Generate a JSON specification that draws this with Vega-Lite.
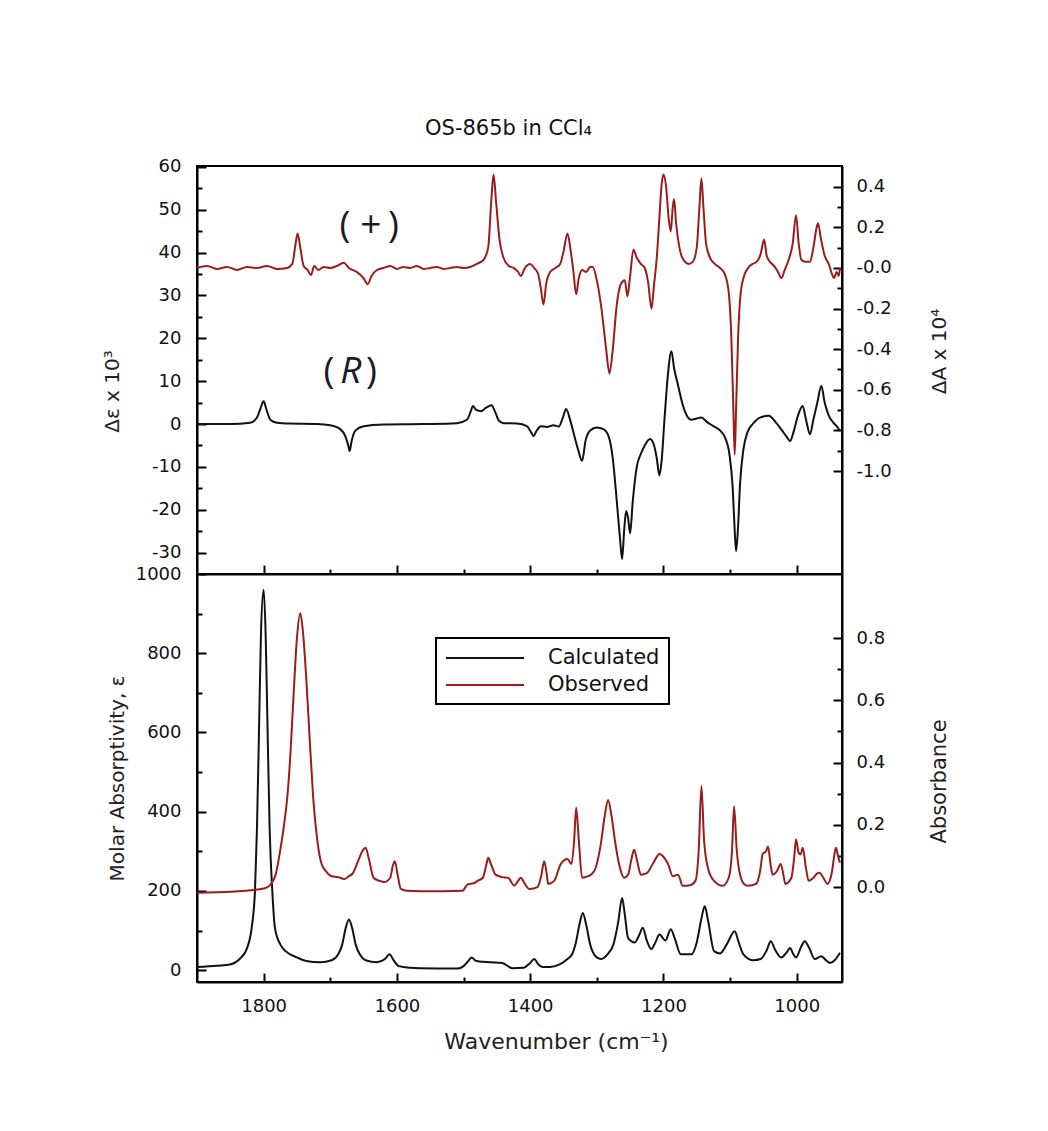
{
  "$schema": "https://vega.github.io/schema/vega-lite/v6.json",
  "padding": {"left": 101, "top": 116, "right": 20, "bottom": 20},
  "background": "white",
  "spacing": 0,
  "bounds": "flush",
  "config": {
    "font": "DejaVu Sans",
    "view": {"stroke": "black", "strokeWidth": 2},
    "axis": {"grid": false, "domainColor": "black", "domainWidth": 2, "tickColor": "black", "tickWidth": 2, "labelFont": "DejaVu Sans", "labelFontSize": 18, "labelColor": "#111", "titleFont": "DejaVu Sans", "titleFontWeight": "normal", "titleColor": "#222", "labelFlush": false, "labelOverlap": false},
    "legend": {"strokeWidth": 2}
  },
  "resolve": {"scale": {"color": "independent"}, "legend": {"color": "independent"}},
  "datasets": {
    "vcd_obs": [
      {"x":1900,"y":0.0},{"x":1885,"y":0.01},{"x":1870,"y":-0.005},{"x":1855,"y":0.005},{"x":1840,"y":-0.01},{"x":1825,"y":0.005},{"x":1810,"y":0.0},{"x":1795,"y":0.01},{"x":1780,"y":-0.005},{"x":1765,"y":0.0},{"x":1757,"y":0.02},{"x":1752,"y":0.12},{"x":1749,"y":0.17},{"x":1745,"y":0.1},{"x":1740,"y":0.01},{"x":1734,"y":-0.01},{"x":1729,"y":-0.035},{"x":1724,"y":0.01},{"x":1718,"y":-0.01},{"x":1710,"y":0.005},{"x":1700,"y":0.0},{"x":1690,"y":0.01},{"x":1680,"y":0.025},{"x":1672,"y":0.0},{"x":1660,"y":-0.02},{"x":1650,"y":-0.05},{"x":1644,"y":-0.08},{"x":1638,"y":-0.04},{"x":1630,"y":-0.01},{"x":1620,"y":0.0},{"x":1610,"y":0.01},{"x":1600,"y":-0.005},{"x":1590,"y":0.005},{"x":1580,"y":0.0},{"x":1570,"y":0.01},{"x":1560,"y":-0.005},{"x":1550,"y":0.0},{"x":1540,"y":0.005},{"x":1530,"y":-0.005},{"x":1520,"y":0.0},{"x":1510,"y":0.005},{"x":1500,"y":0.0},{"x":1490,"y":0.005},{"x":1480,"y":0.02},{"x":1470,"y":0.04},{"x":1463,"y":0.1},{"x":1458,"y":0.35},{"x":1455,"y":0.46},{"x":1451,"y":0.32},{"x":1446,"y":0.14},{"x":1440,"y":0.05},{"x":1432,"y":0.01},{"x":1425,"y":0.0},{"x":1418,"y":-0.02},{"x":1414,"y":-0.04},{"x":1408,"y":0.0},{"x":1400,"y":0.02},{"x":1394,"y":0.0},{"x":1388,"y":-0.03},{"x":1384,"y":-0.1},{"x":1380,"y":-0.18},{"x":1376,"y":-0.08},{"x":1370,"y":-0.02},{"x":1362,"y":0.0},{"x":1355,"y":0.02},{"x":1350,"y":0.08},{"x":1344,"y":0.17},{"x":1339,"y":0.08},{"x":1335,"y":-0.02},{"x":1331,"y":-0.13},{"x":1327,"y":-0.05},{"x":1322,"y":-0.01},{"x":1316,"y":-0.02},{"x":1310,"y":0.005},{"x":1306,"y":0.005},{"x":1300,"y":-0.06},{"x":1293,"y":-0.2},{"x":1286,"y":-0.4},{"x":1281,"y":-0.52},{"x":1276,"y":-0.4},{"x":1270,"y":-0.18},{"x":1264,"y":-0.08},{"x":1258,"y":-0.06},{"x":1254,"y":-0.14},{"x":1250,"y":-0.04},{"x":1245,"y":0.09},{"x":1240,"y":0.05},{"x":1234,"y":0.02},{"x":1228,"y":0.0},{"x":1223,"y":-0.07},{"x":1218,"y":-0.2},{"x":1214,"y":-0.08},{"x":1210,"y":0.05},{"x":1206,"y":0.25},{"x":1203,"y":0.4},{"x":1200,"y":0.46},{"x":1196,"y":0.4},{"x":1192,"y":0.24},{"x":1189,"y":0.18},{"x":1186,"y":0.3},{"x":1184,"y":0.34},{"x":1181,"y":0.22},{"x":1176,"y":0.1},{"x":1170,"y":0.04},{"x":1162,"y":0.02},{"x":1156,"y":0.03},{"x":1150,"y":0.1},{"x":1146,"y":0.3},{"x":1143,"y":0.44},{"x":1140,"y":0.3},{"x":1136,"y":0.12},{"x":1130,"y":0.05},{"x":1123,"y":0.02},{"x":1115,"y":0.0},{"x":1108,"y":-0.03},{"x":1102,"y":-0.12},{"x":1098,"y":-0.35},{"x":1095,"y":-0.7},{"x":1093,"y":-0.92},{"x":1091,"y":-0.7},{"x":1088,"y":-0.35},{"x":1084,"y":-0.12},{"x":1079,"y":-0.04},{"x":1073,"y":0.0},{"x":1066,"y":0.02},{"x":1060,"y":0.03},{"x":1054,"y":0.07},{"x":1049,"y":0.14},{"x":1045,"y":0.06},{"x":1040,"y":0.03},{"x":1034,"y":0.01},{"x":1028,"y":-0.02},{"x":1023,"y":-0.05},{"x":1018,"y":-0.01},{"x":1012,"y":0.04},{"x":1006,"y":0.12},{"x":1001,"y":0.26},{"x":997,"y":0.12},{"x":993,"y":0.04},{"x":987,"y":0.03},{"x":980,"y":0.03},{"x":975,"y":0.1},{"x":970,"y":0.2},{"x":968,"y":0.22},{"x":964,"y":0.15},{"x":958,"y":0.06},{"x":952,"y":0.02},{"x":947,"y":-0.03},{"x":944,"y":-0.05},{"x":940,"y":-0.02},{"x":937,"y":-0.04},{"x":935,"y":0.0}
    ],
    "vcd_calc": [
      {"x":1900,"y":0},{"x":1850,"y":0},{"x":1820,"y":0.3},{"x":1810,"y":1.5},{"x":1805,"y":3.5},{"x":1800,"y":5.3},{"x":1796,"y":3.5},{"x":1790,"y":1.0},{"x":1780,"y":0.3},{"x":1760,"y":0.1},{"x":1720,"y":0},{"x":1700,"y":-0.3},{"x":1685,"y":-1.2},{"x":1677,"y":-3},{"x":1673,"y":-5},{"x":1671,"y":-6.3},{"x":1668,"y":-4},{"x":1662,"y":-1.5},{"x":1650,"y":-0.5},{"x":1620,"y":-0.1},{"x":1560,"y":0},{"x":1510,"y":0.2},{"x":1495,"y":1.0},{"x":1489,"y":3.0},{"x":1486,"y":4.2},{"x":1481,"y":3.3},{"x":1474,"y":3.0},{"x":1466,"y":3.8},{"x":1458,"y":4.4},{"x":1453,"y":3.0},{"x":1447,"y":0.8},{"x":1440,"y":0.2},{"x":1420,"y":0.1},{"x":1405,"y":-0.5},{"x":1399,"y":-1.8},{"x":1395,"y":-2.8},{"x":1390,"y":-1.5},{"x":1384,"y":-0.5},{"x":1375,"y":-0.7},{"x":1365,"y":-0.3},{"x":1357,"y":-0.6},{"x":1351,"y":1.5},{"x":1346,"y":3.5},{"x":1341,"y":1.5},{"x":1335,"y":-2},{"x":1328,"y":-6},{"x":1322,"y":-8.6},{"x":1317,"y":-4},{"x":1310,"y":-1.5},{"x":1300,"y":-0.8},{"x":1290,"y":-1.2},{"x":1282,"y":-3},{"x":1276,"y":-8},{"x":1270,"y":-18},{"x":1265,"y":-27},{"x":1262,"y":-31.5},{"x":1259,"y":-25},{"x":1256,"y":-20.3},{"x":1253,"y":-22},{"x":1250,"y":-25.5},{"x":1246,"y":-18},{"x":1240,"y":-10},{"x":1234,"y":-7},{"x":1228,"y":-5},{"x":1220,"y":-3.5},{"x":1214,"y":-5},{"x":1210,"y":-8},{"x":1206,"y":-12},{"x":1203,"y":-9},{"x":1198,"y":2},{"x":1193,"y":12},{"x":1188,"y":17},{"x":1184,"y":13},{"x":1178,"y":9},{"x":1172,"y":5},{"x":1165,"y":2},{"x":1158,"y":1},{"x":1150,"y":1.3},{"x":1143,"y":1.5},{"x":1135,"y":0.5},{"x":1125,"y":-0.5},{"x":1115,"y":-1.5},{"x":1108,"y":-3},{"x":1101,"y":-7},{"x":1096,"y":-15},{"x":1093,"y":-25},{"x":1091,"y":-29.7},{"x":1088,"y":-24},{"x":1085,"y":-14},{"x":1080,"y":-6},{"x":1074,"y":-2},{"x":1066,"y":0},{"x":1055,"y":1.5},{"x":1042,"y":1.9},{"x":1032,"y":0.5},{"x":1022,"y":-1.5},{"x":1015,"y":-3},{"x":1010,"y":-4},{"x":1005,"y":-2},{"x":998,"y":2},{"x":991,"y":4.2},{"x":986,"y":1},{"x":980,"y":-2.4},{"x":975,"y":1},{"x":969,"y":5},{"x":963,"y":8.9},{"x":958,"y":5},{"x":952,"y":2},{"x":946,"y":0.5},{"x":940,"y":-0.5},{"x":935,"y":-1.6}
    ],
    "ir_calc": [
      {"x":1900,"y":8},{"x":1870,"y":11},{"x":1849,"y":15},{"x":1835,"y":30},{"x":1825,"y":55},{"x":1818,"y":106},{"x":1813,"y":200},{"x":1810,"y":358},{"x":1807,"y":600},{"x":1804,"y":850},{"x":1800,"y":960},{"x":1797,"y":850},{"x":1794,"y":600},{"x":1791,"y":358},{"x":1787,"y":200},{"x":1783,"y":106},{"x":1775,"y":65},{"x":1767,"y":48},{"x":1750,"y":32},{"x":1736,"y":23},{"x":1715,"y":20},{"x":1698,"y":25},{"x":1688,"y":40},{"x":1682,"y":65},{"x":1677,"y":105},{"x":1672,"y":128},{"x":1667,"y":105},{"x":1662,"y":65},{"x":1655,"y":38},{"x":1647,"y":25},{"x":1630,"y":20},{"x":1618,"y":28},{"x":1611,"y":40},{"x":1605,"y":25},{"x":1597,"y":10},{"x":1580,"y":6},{"x":1565,"y":5},{"x":1509,"y":4},{"x":1500,"y":10},{"x":1492,"y":25},{"x":1488,"y":32},{"x":1482,"y":24},{"x":1477,"y":22},{"x":1460,"y":20},{"x":1442,"y":18},{"x":1427,"y":5},{"x":1410,"y":6},{"x":1400,"y":18},{"x":1394,"y":28},{"x":1388,"y":15},{"x":1382,"y":8},{"x":1370,"y":8},{"x":1355,"y":15},{"x":1344,"y":28},{"x":1337,"y":40},{"x":1332,"y":65},{"x":1326,"y":115},{"x":1321,"y":144},{"x":1316,"y":115},{"x":1310,"y":65},{"x":1302,"y":35},{"x":1294,"y":28},{"x":1285,"y":38},{"x":1275,"y":65},{"x":1268,"y":120},{"x":1262,"y":182},{"x":1258,"y":140},{"x":1253,"y":81},{"x":1243,"y":70},{"x":1236,"y":90},{"x":1231,"y":107},{"x":1225,"y":75},{"x":1218,"y":53},{"x":1212,"y":70},{"x":1206,"y":90},{"x":1197,"y":75},{"x":1189,"y":103},{"x":1183,"y":80},{"x":1174,"y":40},{"x":1158,"y":40},{"x":1150,"y":70},{"x":1143,"y":130},{"x":1138,"y":161},{"x":1133,"y":125},{"x":1124,"y":48},{"x":1115,"y":42},{"x":1105,"y":65},{"x":1093,"y":98},{"x":1087,"y":70},{"x":1080,"y":40},{"x":1065,"y":25},{"x":1054,"y":28},{"x":1045,"y":50},{"x":1039,"y":73},{"x":1032,"y":50},{"x":1023,"y":32},{"x":1015,"y":45},{"x":1010,"y":56},{"x":1005,"y":40},{"x":1001,"y":32},{"x":993,"y":60},{"x":988,"y":73},{"x":981,"y":55},{"x":973,"y":28},{"x":963,"y":35},{"x":956,"y":25},{"x":950,"y":18},{"x":943,"y":25},{"x":935,"y":44}
    ],
    "ir_obs": [
      {"x":1900,"y":-0.018},{"x":1849,"y":-0.015},{"x":1810,"y":-0.008},{"x":1798,"y":-0.004},{"x":1789,"y":0.01},{"x":1782,"y":0.04},{"x":1776,"y":0.106},{"x":1770,"y":0.19},{"x":1764,"y":0.3},{"x":1760,"y":0.42},{"x":1755,"y":0.62},{"x":1750,"y":0.8},{"x":1745,"y":0.88},{"x":1741,"y":0.82},{"x":1736,"y":0.67},{"x":1731,"y":0.48},{"x":1726,"y":0.3},{"x":1720,"y":0.16},{"x":1713,"y":0.074},{"x":1706,"y":0.05},{"x":1698,"y":0.035},{"x":1688,"y":0.032},{"x":1679,"y":0.026},{"x":1672,"y":0.035},{"x":1666,"y":0.045},{"x":1658,"y":0.085},{"x":1652,"y":0.115},{"x":1647,"y":0.126},{"x":1642,"y":0.09},{"x":1635,"y":0.03},{"x":1626,"y":0.02},{"x":1619,"y":0.016},{"x":1610,"y":0.03},{"x":1606,"y":0.07},{"x":1603,"y":0.083},{"x":1599,"y":0.04},{"x":1594,"y":-0.006},{"x":1585,"y":-0.012},{"x":1565,"y":-0.013},{"x":1530,"y":-0.013},{"x":1502,"y":-0.012},{"x":1493,"y":0.01},{"x":1485,"y":0.012},{"x":1479,"y":0.02},{"x":1471,"y":0.03},{"x":1466,"y":0.07},{"x":1463,"y":0.094},{"x":1459,"y":0.075},{"x":1452,"y":0.04},{"x":1442,"y":0.032},{"x":1433,"y":0.03},{"x":1424,"y":0.005},{"x":1418,"y":0.02},{"x":1414,"y":0.03},{"x":1408,"y":0.01},{"x":1401,"y":-0.006},{"x":1389,"y":0.0},{"x":1383,"y":0.04},{"x":1379,"y":0.083},{"x":1375,"y":0.04},{"x":1373,"y":0.01},{"x":1364,"y":0.02},{"x":1354,"y":0.074},{"x":1344,"y":0.09},{"x":1338,"y":0.074},{"x":1334,"y":0.15},{"x":1331,"y":0.255},{"x":1327,"y":0.15},{"x":1322,"y":0.03},{"x":1313,"y":0.035},{"x":1304,"y":0.051},{"x":1294,"y":0.138},{"x":1288,"y":0.23},{"x":1283,"y":0.28},{"x":1278,"y":0.23},{"x":1272,"y":0.138},{"x":1265,"y":0.06},{"x":1259,"y":0.03},{"x":1253,"y":0.04},{"x":1248,"y":0.09},{"x":1244,"y":0.12},{"x":1239,"y":0.08},{"x":1234,"y":0.04},{"x":1225,"y":0.045},{"x":1215,"y":0.078},{"x":1206,"y":0.106},{"x":1199,"y":0.095},{"x":1193,"y":0.074},{"x":1186,"y":0.035},{"x":1178,"y":0.04},{"x":1171,"y":0.004},{"x":1160,"y":0.006},{"x":1152,"y":0.02},{"x":1147,"y":0.12},{"x":1143,"y":0.325},{"x":1139,"y":0.15},{"x":1133,"y":0.06},{"x":1124,"y":0.02},{"x":1111,"y":0.004},{"x":1102,"y":0.03},{"x":1097,"y":0.12},{"x":1094,"y":0.26},{"x":1090,"y":0.12},{"x":1086,"y":0.05},{"x":1079,"y":0.01},{"x":1073,"y":0.004},{"x":1061,"y":0.01},{"x":1055,"y":0.05},{"x":1051,"y":0.106},{"x":1046,"y":0.115},{"x":1043,"y":0.13},{"x":1039,"y":0.07},{"x":1036,"y":0.04},{"x":1030,"y":0.05},{"x":1024,"y":0.074},{"x":1020,"y":0.04},{"x":1017,"y":0.01},{"x":1008,"y":0.03},{"x":1004,"y":0.09},{"x":1001,"y":0.154},{"x":997,"y":0.11},{"x":994,"y":0.105},{"x":991,"y":0.126},{"x":986,"y":0.06},{"x":982,"y":0.02},{"x":975,"y":0.03},{"x":970,"y":0.042},{"x":966,"y":0.046},{"x":960,"y":0.03},{"x":954,"y":0.01},{"x":947,"y":0.05},{"x":943,"y":0.11},{"x":941,"y":0.126},{"x":938,"y":0.1},{"x":935,"y":0.078}
    ],
    "ann": [
      {"x":1678,"y":46.2,"t":"("},{"x":1639,"y":46.2,"t":"+"},{"x":1605,"y":46.2,"t":")"},
      {"x":1702,"y":12.1,"t":"("},{"x":1638,"y":12.1,"t":")"}
    ],
    "ann_it": [
      {"x":1669,"y":12.1,"t":"R"}
    ]
  },
  "vconcat": [
    {
      "width": 645,
      "height": 408,
      "title": {"text": "OS-865b in CCl₄", "font": "DejaVu Sans", "fontSize": 21, "fontWeight": "normal", "color": "#111", "offset": 19, "dx": -11, "anchor": "middle"},
      "resolve": {"scale": {"y": "independent"}, "axis": {"y": "independent"}},
      "layer": [
        {
          "data": {"name": "vcd_calc"},
          "mark": {"type": "line", "color": "#111", "strokeWidth": 2, "clip": true, "interpolate": "monotone"},
          "encoding": {
            "x": {"field": "x", "type": "quantitative", "scale": {"domain": [932, 1900], "reverse": true, "nice": false, "zero": false},
              "axis": {"orient": "bottom", "title": null, "labels": false, "minExtent": 0, "maxExtent": 0, "values": [1800, 1700, 1600, 1500, 1400, 1300, 1200, 1100, 1000],
                "tickSize": {"condition": {"test": "datum.value % 200 === 0", "value": -9}, "value": -5}}},
            "y": {"field": "y", "type": "quantitative", "scale": {"domain": [-35, 60.2], "nice": false, "zero": false},
              "axis": {"orient": "left", "values": [-30, -25, -20, -15, -10, -5, 0, 5, 10, 15, 20, 25, 30, 35, 40, 45, 50, 55, 60],
                "labelExpr": "datum.value % 10 === 0 ? (datum.value < 0 ? '-' : '') + abs(datum.value) : ''",
                "tickSize": {"condition": {"test": "datum.value % 10 === 0", "value": -9}, "value": -5},
                "labelPadding": 25,
                "title": "Δε x 10³", "titleFontSize": 20, "titleAngle": 270, "titleX": -85, "titleY": 225, "titleAlign": "center", "titleBaseline": "middle"}}
          }
        },
        {
          "data": {"name": "vcd_obs"},
          "mark": {"type": "line", "color": "#9a1c1c", "strokeWidth": 2, "clip": true, "interpolate": "monotone"},
          "encoding": {
            "x": {"field": "x", "type": "quantitative"},
            "y": {"field": "y", "type": "quantitative", "scale": {"domain": [-1.507, 0.502], "nice": false, "zero": false},
              "axis": {"orient": "right", "values": [-1.0, -0.9, -0.8, -0.7, -0.6, -0.5, -0.4, -0.3, -0.2, -0.1, 0, 0.1, 0.2, 0.3, 0.4],
                "labelExpr": "abs(round(datum.value * 10)) % 2 === 0 ? (datum.value <= 0 ? '-' : '') + format(abs(datum.value), '.1f') : ''",
                "tickSize": {"condition": {"test": "abs(round(datum.value * 10)) % 2 === 0", "value": -9}, "value": -5},
                "labelPadding": 23,
                "title": "ΔA x 10⁴", "titleFontSize": 20, "titleAngle": 270, "titleX": 97, "titleY": 185, "titleAlign": "center", "titleBaseline": "middle"}}
          }
        },
        {
          "data": {"name": "ann"},
          "mark": {"type": "text", "font": "Open Sans", "fontSize": 37, "color": "#1a1a2a", "align": "center", "baseline": "middle"},
          "encoding": {
            "x": {"field": "x", "type": "quantitative"},
            "y": {"field": "y", "type": "quantitative", "scale": {"domain": [-35, 60.2], "nice": false, "zero": false}, "axis": null},
            "text": {"field": "t"}
          }
        },
        {
          "data": {"name": "ann_it"},
          "mark": {"type": "text", "font": "Open Sans", "fontSize": 37, "fontStyle": "italic", "color": "#1a1a2a", "align": "center", "baseline": "middle"},
          "encoding": {
            "x": {"field": "x", "type": "quantitative"},
            "y": {"field": "y", "type": "quantitative", "scale": {"domain": [-35, 60.2], "nice": false, "zero": false}, "axis": null},
            "text": {"field": "t"}
          }
        }
      ]
    },
    {
      "width": 645,
      "height": 408,
      "resolve": {"scale": {"y": "independent"}, "axis": {"y": "independent"}},
      "layer": [
        {
          "data": {"name": "ir_calc"},
          "mark": {"type": "line", "strokeWidth": 2, "clip": true, "interpolate": "monotone"},
          "encoding": {
            "x": {"field": "x", "type": "quantitative", "scale": {"domain": [932, 1900], "reverse": true, "nice": false, "zero": false},
              "axis": {"orient": "bottom", "values": [1800, 1700, 1600, 1500, 1400, 1300, 1200, 1100, 1000],
                "labelExpr": "datum.value % 200 === 0 ? '' + datum.value : ''",
                "tickSize": {"condition": {"test": "datum.value % 200 === 0", "value": -9}, "value": -5},
                "labelPadding": 24,
                "title": "Wavenumber (cm⁻¹)", "titleFontSize": 22, "titleX": 359, "titleY": 59, "titleAlign": "center", "titleBaseline": "middle"}},
            "y": {"field": "y", "type": "quantitative", "scale": {"domain": [-30, 1000], "nice": false, "zero": false},
              "axis": {"orient": "left", "values": [0, 100, 200, 300, 400, 500, 600, 700, 800, 900, 1000],
                "labelExpr": "datum.value % 200 === 0 ? '' + datum.value : ''",
                "tickSize": {"condition": {"test": "datum.value % 200 === 0", "value": -9}, "value": -5},
                "labelPadding": 25,
                "title": "Molar Absorptivity, ε", "titleFontSize": 20, "titleAngle": 270, "titleX": -80, "titleY": 204, "titleAlign": "center", "titleBaseline": "middle"}},
            "color": {"datum": "Calculated", "type": "nominal",
              "scale": {"domain": ["Calculated", "Observed"], "range": ["#111111", "#9a1c1c"]},
              "legend": {"orient": "none", "legendX": 239, "legendY": 64, "title": null, "symbolType": "M -3.9 0 H 3.9", "symbolSize": 400, "symbolOffset": 29, "symbolStrokeWidth": 2, "labelFont": "DejaVu Sans", "labelFontSize": 21, "labelColor": "#111", "labelOffset": 52, "strokeColor": "black", "padding": 9, "rowPadding": 6}}
          }
        },
        {
          "data": {"name": "ir_obs"},
          "mark": {"type": "line", "strokeWidth": 2, "clip": true, "interpolate": "monotone"},
          "encoding": {
            "x": {"field": "x", "type": "quantitative"},
            "y": {"field": "y", "type": "quantitative", "scale": {"domain": [-0.305, 1.006], "nice": false, "zero": false},
              "axis": {"orient": "right", "values": [0, 0.1, 0.2, 0.3, 0.4, 0.5, 0.6, 0.7, 0.8],
                "labelExpr": "round(datum.value * 10) % 2 === 0 ? format(datum.value, '.1f') : ''",
                "tickSize": {"condition": {"test": "round(datum.value * 10) % 2 === 0", "value": -9}, "value": -5},
                "labelPadding": 23,
                "title": "Absorbance", "titleFontSize": 21, "titleAngle": 270, "titleX": 97, "titleY": 207, "titleAlign": "center", "titleBaseline": "middle"}},
            "color": {"datum": "Observed", "type": "nominal"}
          }
        }
      ]
    }
  ]
}
